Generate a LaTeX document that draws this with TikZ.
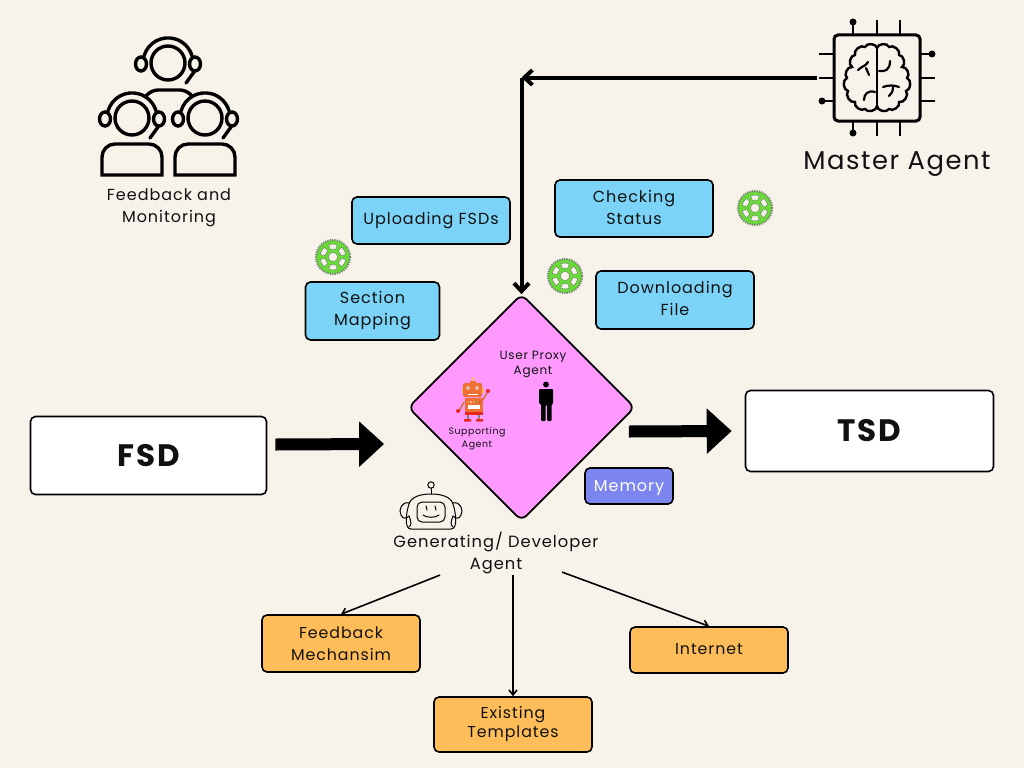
\documentclass[tikz,border=0pt]{standalone}
\usepackage{fontspec}
\setmainfont{Poppins}[LetterSpace=6]
\usetikzlibrary{positioning,arrows.meta,calc,shapes.geometric}
\definecolor{paper}{HTML}{F7F3EB}
\definecolor{inkblack}{HTML}{111111}
\definecolor{skyfill}{HTML}{7BD4F8}
\definecolor{amberfill}{HTML}{FFBD59}
\definecolor{pinkfill}{HTML}{FF99FF}
\definecolor{memfill}{HTML}{7C85F0}
\definecolor{gearfill}{HTML}{66DD33}
\definecolor{robotbody}{HTML}{EE7033}
\definecolor{robotred}{HTML}{E5281E}
\begin{document}
\begin{tikzpicture}[
  x=1pt,y=1pt,
  >=Stealth,
  box/.style={draw=black,line width=1.6pt,rounded corners=5pt,align=center,
              minimum width=158pt,inner sep=0pt,text=inkblack,
              font=\fontsize{16}{22}\selectfont},
  docbox/.style={box,fill=white,font=\fontsize{31}{36}\selectfont\bfseries},
  skybox/.style={box,fill=skyfill},
  amberbox/.style={box,fill=amberfill,font=\fontsize{15.8}{19}\selectfont},
  caption/.style={align=center,text=inkblack,inner sep=0pt},
  iconline/.style={draw=black,line width=3.4pt,line cap=round},
  thinicon/.style={draw=black,line width=1pt,line cap=round},
  bigarrow/.style={line width=12pt,-{Triangle[length=25pt,width=44pt]}},
  linkarrow/.style={line width=4pt,-{Straight Barb[length=8pt,width=15pt,line width=4pt]}},
  thinarrow/.style={line width=1.6pt,-{Straight Barb[length=5pt,width=8pt,line width=1.6pt]}},
  headset/.pic={
    \draw[iconline] (0,0) circle (17);
    \draw[iconline] (-24,7) arc (164:16:25);
    \draw[iconline,fill=paper] (-27,-1) ellipse (5.5 and 7);
    \draw[iconline,fill=paper] (27,-1) ellipse (5.5 and 7);
    \draw[iconline] (26,-9) -- (18,-20);
  },
  gearwheel/.pic={
    \fill[gearfill] (0,0) circle (17);
    \draw[gray,line width=2.2pt,dash pattern=on 1.2pt off 1.2pt] (0,0) circle (17);
    \fill[paper,draw=gray,line width=.5pt] (0,0) circle (4.6);
    \foreach \a in {30,90,...,330}
      \fill[paper,draw=gray,line width=.5pt]
        (\a-19:8) -- (\a-19:13) arc (\a-19:\a+19:13) -- (\a+19:8) arc (\a+19:\a-19:8) -- cycle;
  },
  brainlobe/.pic={
    \draw[iconline,line width=2.4pt] (0,30) to[bend left=75] (12,31) to[bend left=75] (22,23)
      to[bend left=75] (25,11) to[bend left=75] (30,0) to[bend left=75] (29,-13)
      to[bend left=75] (22,-24) to[bend left=75] (12,-31) to[bend left=75] (0,-28);
  }
]
\fill[paper] (0,0) rectangle (1024,-768);
\useasboundingbox (0,0) rectangle (1024,-768);

\node[docbox,minimum width=236pt,minimum height=78pt] (fsd) at (148.5,-455.5) {FSD};
\node[docbox,minimum width=248pt,minimum height=81pt] (tsd) at (869.5,-431) {TSD};
\node[skybox,minimum height=47pt] (uploading) at (431,-220.5) {Uploading FSDs};
\node[skybox,minimum width=134pt,minimum height=58pt] (mapping) at (372.5,-311) {Section\\Mapping};
\node[skybox,minimum height=57pt,text depth=2pt] (checking) at (634,-208.5) {Checking\\Status};
\node[skybox,minimum height=58pt,text depth=4pt] (downloading) at (675,-300) {Downloading\\File};
\node[box,fill=memfill,text=white,minimum width=88pt,minimum height=36pt,text depth=0pt] (memory) at (629,-486) {Memory};
\node[amberbox,minimum height=57pt,font=\fontsize{15.8}{22}\selectfont] (feedback) at (341,-643.5) {Feedback\\Mechansim};
\node[amberbox,minimum height=46pt,text depth=2pt] (internet) at (709,-650) {Internet};
\node[amberbox,minimum height=55pt] (templates) at (513,-724.5) {Existing\\Templates};

\node[diamond,draw=black,line width=1.8pt,fill=pinkfill,rounded corners=7pt,aspect=1,
      minimum width=227pt,minimum height=227pt,inner sep=0pt] (hub) at (521.5,-407.5) {};
\node[caption,font=\fontsize{12}{15}\selectfont] (proxylabel) at (533,-364) {User Proxy\\Agent};
\node[caption,font=\fontsize{9.4}{13}\selectfont] (supportlabel) at (477,-438.5) {Supporting\\Agent};
\node[caption,font=\fontsize{16.3}{22}\selectfont] (genlabel) at (496,-553) {Generating/ Developer\\Agent};
\node[caption,font=\fontsize{16}{22}\selectfont] (monitorlabel) at (169,-208) {Feedback and\\Monitoring};
\node[caption,font=\fontsize{25.8}{30}\selectfont] (masterlabel) at (897,-164) {Master Agent};

\pic at (333,-257) {gearwheel};
\pic at (755,-208) {gearwheel};
\pic at (565,-276) {gearwheel};

\pic at (168,-63) {headset};
\pic at (132,-118) {headset};
\pic at (205,-118) {headset};
\draw[iconline,rounded corners=6pt] (146,-96) -- (152,-90) -- (186,-90) -- (192,-96);
\foreach \bx in {102,175} {
  \draw[iconline,line cap=butt] (\bx,-175) [rounded corners=13pt] -- (\bx,-144) -- (\bx+60,-144)
    [sharp corners] -- (\bx+60,-175) -- cycle;
}

\node[draw=black,line width=3pt,rounded corners=4pt,minimum width=86pt,minimum height=86pt,
      inner sep=0pt] (masterchip) at (877,-78) {};
\foreach \px in {853,877,900} {
  \draw[iconline,line width=2.6pt,line cap=butt] (\px,-35) -- (\px,-20);
  \draw[iconline,line width=2.6pt,line cap=butt] (\px,-121) -- (\px,-136);
}
\foreach \py in {54,78,101} {
  \draw[iconline,line width=2.6pt,line cap=butt] (834,-\py) -- (819,-\py);
  \draw[iconline,line width=2.6pt,line cap=butt] (920,-\py) -- (935,-\py);
}
\fill (853,-22) circle (3.5);
\fill (853,-133) circle (3.5);
\fill (932,-54) circle (3.5);
\fill (822,-101) circle (3.5);
\pic at (877,-78) {brainlobe};
\pic[xscale=-1] at (877,-78) {brainlobe};
\draw[iconline,line width=2.4pt] (877,-47) -- (877,-108);
\draw[iconline,line width=2.2pt] (890,-61) .. controls (890,-70) and (885,-72) .. (879,-71);
\draw[iconline,line width=2.2pt] (858,-70) .. controls (862,-66) and (866,-66) .. (868,-62);
\draw[iconline,line width=2.2pt] (866,-68) -- (869,-75);
\draw[iconline,line width=2.2pt] (883,-87) .. controls (888,-85) and (894,-85) .. (899,-87);
\draw[iconline,line width=2.2pt] (893,-86) .. controls (893,-91) and (892,-94) .. (889,-96);
\draw[iconline,line width=2.2pt] (875,-92) .. controls (868,-90) and (864,-94) .. (864,-100);

\draw[robotbody!70!gray,line width=1.6pt] (464,-402) -- (459,-411);
\draw[robotbody!70!gray,line width=1.6pt] (483,-400) -- (488,-391);
\draw[gray,line width=1.8pt] (468,-415) -- (468,-420);
\draw[gray,line width=1.8pt] (479,-415) -- (479,-420);
\fill[robotred] (458,-411) circle (2);
\fill[robotred] (488,-391) circle (2);
\fill[robotred,rounded corners=.5pt] (464,-419) rectangle (471,-421.5);
\fill[robotred,rounded corners=.5pt] (476,-419) rectangle (483,-421.5);
\fill[amberfill] (473,-379) circle (1.8);
\fill[robotbody] (470,-381) rectangle (476,-384);
\fill[amberfill] (461.5,-388) rectangle (483.5,-393);
\fill[robotbody,rounded corners=1.5pt] (463,-383) rectangle (482,-397);
\fill[white] (468,-388) circle (1.8);
\fill[white] (477,-388) circle (1.8);
\fill[black] (468,-388) circle (.7);
\fill[black] (477,-388) circle (.7);
\fill[white] (468,-393.5) rectangle (478,-395);
\fill[robotbody] (465,-398) rectangle (483,-413);
\fill[robotred] (465,-412) rectangle (483,-415);
\fill[white] (468,-405) rectangle (480,-408.5);
\foreach \dx/\dc in {468/amberfill,471/white,474/amberfill,477/gearfill,480/robotred}
  \fill[\dc] (\dx,-402) circle (.9);

\fill[black] (546,-384.5) circle (2.9);
\fill[black,rounded corners=1pt] (539,-389) -- (553,-389) -- (553,-404) -- (551.5,-404) -- (551.5,-421)
  -- (547,-421) -- (547,-405) -- (545.5,-405) -- (545.5,-421) -- (541,-421) -- (541,-404) -- (539,-404) -- cycle;

\draw[thinicon,fill=paper] (431,-494) -- (431,-488);
\draw[thinicon] (431,-485) circle (3.2);
\draw[thinicon] (411,-529) .. controls (404,-529) and (406,-513) .. (409,-504)
  .. controls (411,-497) and (420,-494) .. (431,-494)
  .. controls (442,-494) and (451,-497) .. (453,-504)
  .. controls (456,-513) and (458,-529) .. (451,-529) -- cycle;
\draw[thinicon] (409,-503) .. controls (402,-501) and (398,-510) .. (401,-515)
  .. controls (403,-520) and (407,-518) .. (409,-516);
\draw[thinicon] (453,-503) .. controls (460,-501) and (464,-510) .. (461,-515)
  .. controls (459,-520) and (455,-518) .. (453,-516);
\draw[thinicon] (409,-516) .. controls (411,-521) and (412,-525) .. (409,-527);
\draw[thinicon] (453,-516) .. controls (451,-521) and (450,-525) .. (453,-527);
\draw[thinicon,rounded corners=5pt] (417,-502) rectangle (445,-522);
\draw[thinicon] (423,-515) .. controls (426,-518) and (436,-518) .. (439,-515);
\draw[thinicon] (426,-506) -- (427,-510);
\draw[thinicon] (435,-506) -- (436,-510);

\coordinate (corner) at (521.5,-77.5);
\draw[linkarrow] ([xshift=-16pt,yshift=.5pt]masterchip.west) -- (corner);
\draw[linkarrow,shorten >=-1pt] (corner) -- (hub.north);
\draw[bigarrow] ([shift={(8pt,11pt)}]fsd.east) -- ([shift={(-23pt,-36.5pt)}]hub.west);
\draw[bigarrow] ([shift={(-7pt,-24pt)}]hub.east) -- ([shift={(-13pt,0pt)}]tsd.west);
\draw[thinarrow] ([xshift=-56pt,yshift=-1pt]genlabel.south) -- (feedback.north);
\draw[thinarrow] ([xshift=17pt,yshift=-1pt]genlabel.south) -- (templates.north);
\draw[thinarrow] ([xshift=66pt,yshift=2pt]genlabel.south) -- (internet.north);
\end{tikzpicture}
\end{document}
